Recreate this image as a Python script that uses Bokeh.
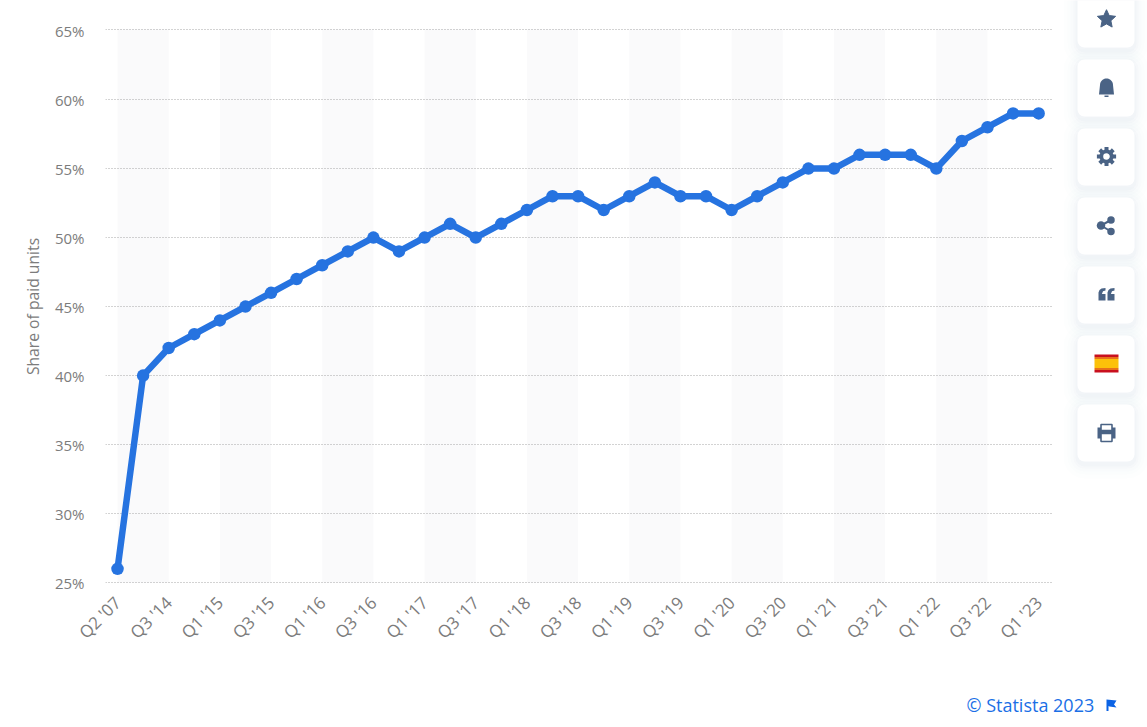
import math
from bokeh.plotting import figure
from bokeh.layouts import column, row
from bokeh.models import Range1d, FixedTicker, BoxAnnotation, Label
from bokeh.embed import file_html
from bokeh.resources import INLINE

quarters = ["Q2 '07", "Q2 '14", "Q3 '14", "Q4 '14", "Q1 '15", "Q2 '15", "Q3 '15", "Q4 '15",
            "Q1 '16", "Q2 '16", "Q3 '16", "Q4 '16", "Q1 '17", "Q2 '17", "Q3 '17", "Q4 '17",
            "Q1 '18", "Q2 '18", "Q3 '18", "Q4 '18", "Q1 '19", "Q2 '19", "Q3 '19", "Q4 '19",
            "Q1 '20", "Q2 '20", "Q3 '20", "Q4 '20", "Q1 '21", "Q2 '21", "Q3 '21", "Q4 '21",
            "Q1 '22", "Q2 '22", "Q3 '22", "Q4 '22", "Q1 '23"]
share = [26, 40, 42, 43, 44, 45, 46, 47, 48, 49, 50, 49, 50, 51, 50, 51, 52, 53, 53, 52,
         53, 54, 53, 53, 52, 53, 54, 55, 55, 56, 56, 56, 55, 57, 58, 59, 59]
y_ticks = [25, 30, 35, 40, 45, 50, 55, 60, 65]

BLUE = "#2673e0"
GREY = "#7c7c7c"
ICON = "#4a6385"
FONT = "Open Sans"
PLOT_TOP = 65.08  # the top rule sits just above the 65% label in the reference

idx = list(range(len(quarters)))
p = figure(width=1063, height=680, frame_width=948, frame_height=556,
           x_range=Range1d(-0.47, 36.58), y_range=Range1d(24.863, 65.153),
           output_backend="svg", toolbar_location=None,
           min_border_left=105, min_border_top=28, min_border_right=10, min_border_bottom=96)
p.frame_align = False
p.outline_line_color = None
p.xgrid.visible = False
p.ygrid.ticker = FixedTicker(ticks=y_ticks[:-1] + [PLOT_TOP])
p.ygrid.grid_line_color = "#a6a6a6"
p.ygrid.grid_line_dash = "1 2"
p.ygrid.grid_line_width = 1
p.ygrid.level = "underlay"

bands = idx[0:34:4]
p.quad(left=bands, right=[b + 2 for b in bands], bottom=25, top=PLOT_TOP,
       fill_color="#fafafb", line_color=None, level="underlay")

p.line(idx, share, line_color=BLUE, line_width=6.5, line_join="round")
p.scatter(idx, share, size=12.5, fill_color=BLUE, line_color=None)

xa = p.xaxis[0]
xa.ticker = FixedTicker(ticks=idx[0::2])
xa.major_label_overrides = {i: quarters[i] for i in idx[0::2]}
xa.major_label_orientation = math.pi / 4
xa.major_label_text_font = FONT
xa.major_label_text_font_size = "17px"
xa.major_label_text_color = GREY
xa.major_label_standoff = 9
xa.axis_line_color = None
xa.major_tick_line_color = None
xa.minor_tick_line_color = None

ya = p.yaxis[0]
ya.ticker = FixedTicker(ticks=y_ticks)
ya.major_label_overrides = {v: f"{v}%" for v in y_ticks}
ya.major_label_text_font = FONT
ya.major_label_text_font_size = "15px"
ya.major_label_text_color = GREY
ya.major_label_standoff = 15
ya.axis_line_color = None
ya.major_tick_line_color = None
ya.minor_tick_line_color = None
ya.axis_label = "Share of paid units"
ya.axis_label_text_font = FONT
ya.axis_label_text_font_size = "15.7px"
ya.axis_label_text_font_style = "normal"
ya.axis_label_text_color = GREY
ya.axis_label_standoff = 8

# side panel with the action cards (page pixel coordinates)
s = figure(width=84, height=680, x_range=Range1d(1063, 1147), y_range=Range1d(680, 0),
           output_backend="svg", toolbar_location=None, x_axis_location=None, y_axis_location=None,
           min_border=0, min_border_left=0, min_border_right=0, min_border_top=0, min_border_bottom=0)
s.frame_align = False
s.grid.visible = False
s.outline_line_color = None

card_tops = [-10, 59, 128, 197, 266, 335, 404]
for top in card_tops:
    for grow, alpha in [(14, 0.006), (10, 0.008), (7, 0.010), (4, 0.014), (2, 0.018)]:
        s.add_layout(BoxAnnotation(left=1077 - grow, right=1134 + grow, top=top - grow + 3,
                                   bottom=top + 57 + grow + 3, fill_color="#3c5a8c", fill_alpha=alpha,
                                   line_color=None, border_radius=7 + grow, level="underlay"))
    s.add_layout(BoxAnnotation(left=1077, right=1134, top=top, bottom=top + 57, fill_color="white",
                               fill_alpha=1, line_color=None, border_radius=7, level="underlay"))

cx = 1106
# star
star_x, star_y = [], []
for k in range(10):
    r = 9.6 if k % 2 == 0 else 4.6
    a = -math.pi / 2 + k * math.pi / 5
    star_x.append(cx + r * math.cos(a))
    star_y.append(18.8 + r * math.sin(a))
s.patch(star_x, star_y, fill_color=ICON, line_color=ICON, line_width=1, line_join="round")
# bell
bell_t = [i / 20 * math.pi for i in range(21)]
bx = [cx - 6.5 * math.cos(t) for t in bell_t]
by = [84.5 - 6.5 * math.sin(t) for t in bell_t]
s.patch([cx - 7.5] + bx + [cx + 7.5], [94] + by + [94], fill_color=ICON, line_color=None)
s.quad(left=cx - 2, right=cx + 2, top=95, bottom=96.5, fill_color=ICON, line_color=None)
# gear
for k in range(8):
    a = k * math.pi / 4
    s.scatter([cx + 7.6 * math.cos(a)], [156 + 7.6 * math.sin(a)], marker="square", size=4,
              angle=-a, fill_color=ICON, line_color=None)
s.circle([cx], [156], radius=5.2, fill_color="white", line_color=ICON, line_width=3.8)
# share
s.segment([cx - 5.5, cx - 5.5], [225, 225], [cx + 4.5, cx + 4.5], [219.5, 231], line_color=ICON, line_width=2)
s.scatter([cx - 5.5, cx + 4.5, cx + 4.5], [225, 219.5, 231], size=[8.5, 7.5, 7.5], fill_color=ICON, line_color=None)
# quote
for qx in (cx - 8, cx + 1):
    s.patch([qx, qx, qx + 1, qx + 3, qx + 7, qx + 7, qx + 4.5, qx + 3.4, qx + 7, qx + 7],
            [300, 292, 289.5, 288, 287.5, 290, 290.8, 293.5, 293.5, 300], fill_color=ICON, line_color=None)
# flag
s.quad(left=1094, right=1118, top=[354, 356.5, 358.5, 367.5, 369.5], bottom=[356.5, 358.5, 367.5, 369.5, 372],
       fill_color=["#c9101e", "#e8711a", "#fcc10a", "#e8711a", "#c9101e"], line_color=None)
# printer
s.quad(left=cx - 9, right=cx + 9, top=427, bottom=438, fill_color=ICON, line_color=None)
s.quad(left=cx - 5.5, right=cx + 5.5, top=424, bottom=430, fill_color="white", line_color=ICON, line_width=1.6)
s.quad(left=cx - 5.5, right=cx + 5.5, top=433, bottom=441, fill_color="white", line_color=ICON, line_width=1.6)

# footer
f = figure(width=1147, height=47, x_range=Range1d(0, 1147), y_range=Range1d(727, 680),
           output_backend="svg", toolbar_location=None, x_axis_location=None, y_axis_location=None,
           min_border=0, min_border_left=0, min_border_right=0, min_border_top=0, min_border_bottom=0)
f.frame_align = False
f.grid.visible = False
f.outline_line_color = None
f.add_layout(Label(x=966, y=704, text="© Statista 2023", text_font=FONT, text_font_size="18px",
                   text_color="#1a6fe6", text_baseline="middle", text_align="left"))
f.patch([1106, 1106, 1116, 1113.5, 1116, 1109, 1108, 1108, 1106],
        [710.5, 699, 700, 704, 707, 706, 705.5, 710.5, 710.5], fill_color="#0b63e5", line_color=None)

page = column(row(p, s, spacing=0), f, spacing=0)
open("out.html", "w").write(file_html(page, INLINE))
